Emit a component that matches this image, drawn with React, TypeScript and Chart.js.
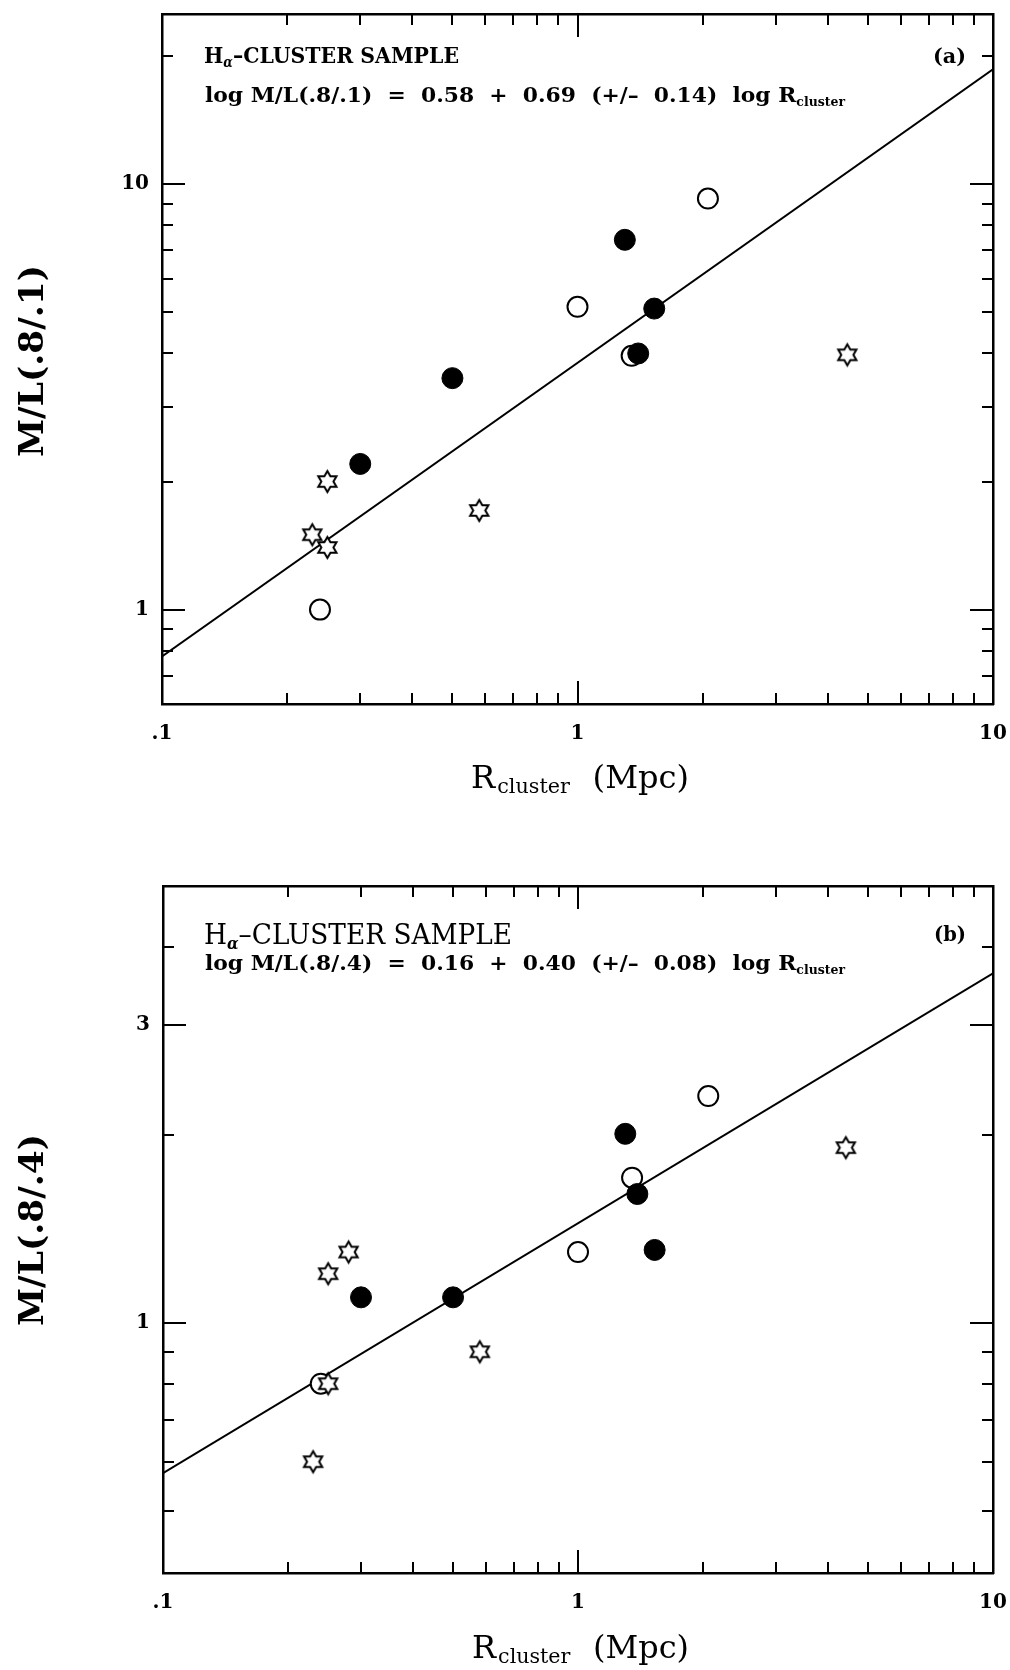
import React, { useEffect, useRef } from "react";
import { Chart, registerables } from "chart.js";

Chart.register(...registerables);

// ---- Panel (a): M/L(.8/.1) versus cluster radius ----
const aFilledR = [1.30, 1.53, 1.40, 0.50, 0.30];
const aFilledML = [7.4, 5.1, 4.0, 3.5, 2.2];
const aOpenR = [2.06, 1.0, 1.35, 0.24];
const aOpenML = [9.25, 5.15, 3.95, 1.0];
const aStarR = [4.46, 0.25, 0.58, 0.23, 0.25];
const aStarML = [3.97, 2.0, 1.71, 1.5, 1.4];
const aFitIntercept = 0.58;
const aFitSlope = 0.69;

// ---- Panel (b): M/L(.8/.4) versus cluster radius ----
const bFilledR = [1.30, 1.39, 1.53, 0.50, 0.30];
const bFilledML = [2.01, 1.61, 1.31, 1.1, 1.1];
const bOpenR = [2.06, 1.35, 1.0, 0.24];
const bOpenML = [2.31, 1.71, 1.30, 0.80];
const bStarR = [4.42, 0.28, 0.25, 0.58, 0.25, 0.23];
const bStarML = [1.91, 1.30, 1.20, 0.90, 0.80, 0.60];
const bFitIntercept = 0.16;
const bFitSlope = 0.40;

// ---- Axes ----
const xMin = 0.1;
const xMax = 10;
const xLabelValues = [0.1, 1, 10];
const xLabels = [".1", "1", "10"];
const xMinorTicks = [0.2, 0.3, 0.4, 0.5, 0.6, 0.7, 0.8, 0.9, 2, 3, 4, 5, 6, 7, 8, 9];
const xMajorTicks = [1];

const aYMin = Math.pow(10, -0.2);
const aYMax = Math.pow(10, 1.4);
const aYLabelValues = [1, 10];
const aYLabels = ["1", "10"];
const aYMinorTicks = [0.7, 0.8, 0.9, 2, 3, 4, 5, 6, 7, 8, 9, 20];
const aYMajorTicks = [1, 10];

const bYMin = Math.pow(10, -0.4);
const bYMax = Math.pow(10, 0.7);
const bYLabelValues = [1, 3];
const bYLabels = ["1", "3"];
const bYMinorTicks = [0.5, 0.6, 0.7, 0.8, 0.9, 2, 4];
const bYMajorTicks = [1, 3];

const SERIF = '"DejaVu Serif", "Liberation Serif", serif';
const W = 1010;
const H = 835;

type Run = { text: string; font: string; dy?: number; gap?: number };
type TextLine = { runs: Run[]; x: number; y: number; width: number };

type Panel = {
  filledR: number[]; filledML: number[];
  openR: number[]; openML: number[];
  starR: number[]; starML: number[];
  intercept: number; slope: number;
  yMin: number; yMax: number;
  yLabelValues: number[]; yLabels: string[];
  yMinor: number[]; yMajor: number[];
  frame: { left: number; right: number; top: number; bottom: number };
  lines: TextLine[];
  yTitle: { text: string; x: number; cy: number; length: number };
};

const pts = (xs: number[], ys: number[]) => xs.map((x, i) => ({ x, y: ys[i] }));

// straight line in log-log space: log y = a + b log x
const fitLine = (a: number, b: number) =>
  [xMin, xMax].map((x) => ({ x, y: Math.pow(10, a + b * Math.log10(x)) }));

const bold = (s: number) => `bold ${s}px ${SERIF}`;
const reg = (s: number) => `${s}px ${SERIF}`;

const panelA: Panel = {
  filledR: aFilledR, filledML: aFilledML,
  openR: aOpenR, openML: aOpenML,
  starR: aStarR, starML: aStarML,
  intercept: aFitIntercept, slope: aFitSlope,
  yMin: aYMin, yMax: aYMax,
  yLabelValues: aYLabelValues, yLabels: aYLabels,
  yMinor: aYMinorTicks, yMajor: aYMajorTicks,
  frame: { left: 162, right: 993, top: 14, bottom: 704 },
  lines: [
    {
      runs: [
        { text: "H", font: bold(23) },
        { text: "α", font: `italic bold 14px ${SERIF}`, dy: 4 },
        { text: "–CLUSTER SAMPLE", font: bold(23) },
      ],
      x: 204, y: 63, width: 255,
    },
    {
      runs: [
        { text: "log M/L(.8/.1)  =  0.58  +  0.69  (+/–  0.14)  log ", font: bold(21) },
        { text: "R", font: bold(21) },
        { text: "cluster", font: bold(12), dy: 4 },
      ],
      x: 205, y: 102, width: 640,
    },
    { runs: [{ text: "(a)", font: bold(21) }], x: 933, y: 63, width: 33 },
    {
      runs: [
        { text: "R", font: reg(31) },
        { text: "cluster", font: reg(20), dy: 5, gap: 2 },
        { text: "(Mpc)", font: reg(31), gap: 22 },
      ],
      x: 471, y: 788, width: 218,
    },
  ],
  yTitle: { text: "M/L(.8/.1)", x: 43, cy: 361, length: 192 },
};

const panelB: Panel = {
  filledR: bFilledR, filledML: bFilledML,
  openR: bOpenR, openML: bOpenML,
  starR: bStarR, starML: bStarML,
  intercept: bFitIntercept, slope: bFitSlope,
  yMin: bYMin, yMax: bYMax,
  yLabelValues: bYLabelValues, yLabels: bYLabels,
  yMinor: bYMinorTicks, yMajor: bYMajorTicks,
  frame: { left: 163, right: 993, top: 51, bottom: 738 },
  lines: [
    {
      runs: [
        { text: "H", font: reg(28) },
        { text: "α", font: `italic bold 16px ${SERIF}`, dy: 5 },
        { text: "–CLUSTER SAMPLE", font: reg(28) },
      ],
      x: 204, y: 109, width: 308,
    },
    {
      runs: [
        { text: "log M/L(.8/.4)  =  0.16  +  0.40  (+/–  0.08)  log ", font: bold(21) },
        { text: "R", font: bold(21) },
        { text: "cluster", font: bold(12), dy: 4 },
      ],
      x: 205, y: 135, width: 640,
    },
    { runs: [{ text: "(b)", font: bold(21) }], x: 934, y: 106, width: 32 },
    {
      runs: [
        { text: "R", font: reg(31) },
        { text: "cluster", font: reg(20), dy: 5, gap: 2 },
        { text: "(Mpc)", font: reg(31), gap: 22 },
      ],
      x: 472, y: 823, width: 217,
    },
  ],
  yTitle: { text: "M/L(.8/.4)", x: 43, cy: 395, length: 192 },
};

// Six-pointed open star used as a point marker
function makeStar(outer: number, lw: number): HTMLCanvasElement {
  const size = Math.ceil(outer * 2 + lw * 2 + 2);
  const c = document.createElement("canvas");
  c.width = size;
  c.height = size;
  const g = c.getContext("2d")!;
  const cx = size / 2;
  const cy = size / 2;
  const inner = outer / Math.sqrt(3);
  g.beginPath();
  for (let k = 0; k < 12; k++) {
    const ang = -Math.PI / 2 + (k * Math.PI) / 6;
    const r = k % 2 === 0 ? outer : inner;
    const px = cx + r * Math.cos(ang);
    const py = cy + r * Math.sin(ang);
    if (k === 0) g.moveTo(px, py);
    else g.lineTo(px, py);
  }
  g.closePath();
  g.fillStyle = "#fff";
  g.fill();
  g.lineWidth = lw;
  g.lineJoin = "miter";
  g.strokeStyle = "#000";
  g.stroke();
  return c;
}

function drawRuns(ctx: CanvasRenderingContext2D, line: TextLine) {
  let total = 0;
  for (const r of line.runs) {
    ctx.font = r.font;
    total += (r.gap ?? 0) + ctx.measureText(r.text).width;
  }
  const sx = line.width / total;
  ctx.save();
  ctx.translate(line.x, line.y);
  ctx.scale(sx, 1);
  let cx = 0;
  for (const r of line.runs) {
    cx += r.gap ?? 0;
    ctx.font = r.font;
    ctx.fillText(r.text, cx, r.dy ?? 0);
    cx += ctx.measureText(r.text).width;
  }
  ctx.restore();
}

function makePlugins(p: Panel) {
  const ticks = {
    id: "inwardTicks",
    afterDraw(chart: any) {
      const { ctx, chartArea: a } = chart;
      const xs = chart.scales.x;
      const ys = chart.scales.y;
      ctx.save();
      ctx.strokeStyle = "#000";
      ctx.lineWidth = 2;
      ctx.beginPath();
      const xMark = (v: number, len: number) => {
        const px = Math.round(xs.getPixelForValue(v));
        ctx.moveTo(px, a.bottom);
        ctx.lineTo(px, a.bottom - len);
        ctx.moveTo(px, a.top);
        ctx.lineTo(px, a.top + len);
      };
      const yMark = (v: number, len: number) => {
        const py = Math.round(ys.getPixelForValue(v));
        ctx.moveTo(a.left, py);
        ctx.lineTo(a.left + len, py);
        ctx.moveTo(a.right, py);
        ctx.lineTo(a.right - len, py);
      };
      xMinorTicks.forEach((v) => xMark(v, 11));
      xMajorTicks.forEach((v) => xMark(v, 23));
      p.yMinor.forEach((v) => yMark(v, 11));
      p.yMajor.forEach((v) => yMark(v, 23));
      ctx.stroke();
      ctx.restore();
    },
  };
  const texts = {
    id: "panelTexts",
    afterDraw(chart: any) {
      const ctx: CanvasRenderingContext2D = chart.ctx;
      ctx.save();
      ctx.fillStyle = "#000";
      ctx.textBaseline = "alphabetic";
      ctx.textAlign = "left";
      p.lines.forEach((l) => drawRuns(ctx, l));
      // rotated y-axis title
      const t = p.yTitle;
      ctx.font = bold(33);
      const w = ctx.measureText(t.text).width;
      ctx.translate(t.x, t.cy);
      ctx.rotate(-Math.PI / 2);
      ctx.scale(t.length / w, 1);
      ctx.textAlign = "center";
      ctx.fillText(t.text, 0, 0);
      ctx.restore();
    },
  };
  return [ticks, texts];
}

// fix a box's size and drop the extra room Chart.js keeps for overflowing labels
const sized = (fn: (s: any) => void) => (s: any) => {
  fn(s);
  s.paddingLeft = 0;
  s.paddingRight = 0;
  s.paddingTop = 0;
  s.paddingBottom = 0;
};

function makeConfig(p: Panel, star: HTMLCanvasElement): any {
  const f = p.frame;
  const border = { display: true, color: "#000", width: 2.5 };
  const noGrid = { display: false, drawTicks: false };
  const tickFont = { family: SERIF, size: 20, weight: "bold" as const };
  return {
    type: "scatter",
    data: {
      datasets: [
        {
          label: "fit",
          data: fitLine(p.intercept, p.slope),
          showLine: true,
          borderColor: "#000",
          borderWidth: 2,
          pointRadius: 0,
          fill: false,
          order: 4,
        },
        {
          label: "open",
          data: pts(p.openR, p.openML),
          pointStyle: "circle",
          pointRadius: 10,
          pointBackgroundColor: "#fff",
          pointBorderColor: "#000",
          pointBorderWidth: 2,
          order: 3,
        },
        {
          label: "star",
          data: pts(p.starR, p.starML),
          pointStyle: star,
          pointRadius: 11,
          order: 2,
        },
        {
          label: "filled",
          data: pts(p.filledR, p.filledML),
          pointStyle: "circle",
          pointRadius: 10.5,
          pointBackgroundColor: "#000",
          pointBorderColor: "#000",
          pointBorderWidth: 1,
          order: 1,
        },
      ],
    },
    options: {
      responsive: false,
      animation: false,
      events: [],
      layout: { padding: 0 },
      plugins: { legend: { display: false }, tooltip: { enabled: false } },
      scales: {
        x: {
          type: "logarithmic",
          position: "bottom",
          min: xMin,
          max: xMax,
          afterFit: sized((s) => { s.height = H - f.bottom; }),
          afterBuildTicks: (s: any) => { s.ticks = xLabelValues.map((v) => ({ value: v })); },
          ticks: {
            autoSkip: false,
            maxRotation: 0,
            padding: 18,
            color: "#000",
            font: tickFont,
            callback: (_v: any, i: number) => xLabels[i],
          },
          grid: noGrid,
          border,
        },
        x2: {
          type: "logarithmic",
          position: "top",
          min: xMin,
          max: xMax,
          afterFit: sized((s) => { s.height = f.top; }),
          ticks: { display: false },
          grid: noGrid,
          border,
        },
        y: {
          type: "logarithmic",
          position: "left",
          min: p.yMin,
          max: p.yMax,
          afterFit: sized((s) => { s.width = f.left; }),
          afterBuildTicks: (s: any) => { s.ticks = p.yLabelValues.map((v) => ({ value: v })); },
          ticks: {
            autoSkip: false,
            padding: 13,
            color: "#000",
            font: tickFont,
            callback: (_v: any, i: number) => p.yLabels[i],
          },
          grid: noGrid,
          border,
        },
        y2: {
          type: "logarithmic",
          position: "right",
          min: p.yMin,
          max: p.yMax,
          afterFit: sized((s) => { s.width = W - f.right; }),
          ticks: { display: false },
          grid: noGrid,
          border,
        },
      },
    },
    plugins: makePlugins(p),
  };
}

export default function App() {
  const refA = useRef<HTMLCanvasElement>(null);
  const refB = useRef<HTMLCanvasElement>(null);

  useEffect(() => {
    const star = makeStar(10.5, 2);
    const ca = new Chart(refA.current!, makeConfig(panelA, star));
    const cb = new Chart(refB.current!, makeConfig(panelB, star));
    return () => {
      ca.destroy();
      cb.destroy();
    };
  }, []);

  return (
    <div style={{ position: "absolute", left: 0, top: 0, width: W, height: 2 * H, background: "#fff" }}>
      <canvas ref={refA} width={W} height={H} style={{ position: "absolute", left: 0, top: 0, display: "block" }} />
      <canvas ref={refB} width={W} height={H} style={{ position: "absolute", left: 0, top: H, display: "block" }} />
    </div>
  );
}
